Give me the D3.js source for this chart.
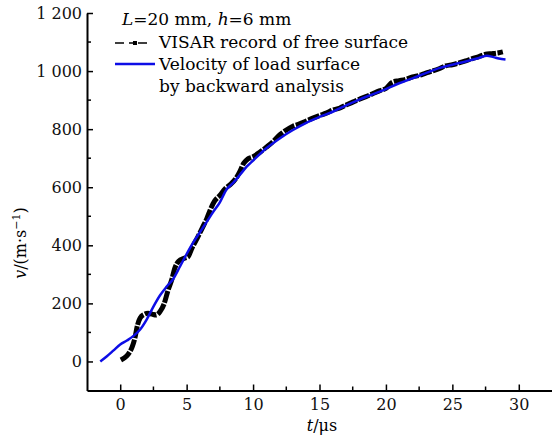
<!DOCTYPE html>
<html>
  <head>
    <meta charset="utf-8">
    <title>VISAR record vs backward analysis</title>
    <script src="https://cdn.jsdelivr.net/npm/d3@7"></script>
    <style>
      body { margin: 0; background: #fff; }
      svg, svg text { font-family: "DejaVu Serif", "Liberation Serif", serif; }
    </style>
  </head>

  <body>
    <svg id="chart" width="552" height="440"></svg>

    <script>
      // data (t in µs, v in m/s)
      visarT = [0.05, 0.3, 0.6, 0.9, 1.1, 1.3, 1.5, 1.8, 2.1, 2.4, 2.7, 3.0, 3.3, 3.6, 3.9, 4.1, 4.4, 4.8, 5.1, 5.4,
        5.8, 6.2, 6.5, 6.8, 7.1, 7.5, 7.9, 8.3, 8.7, 9.0, 9.3, 9.6, 10.0, 10.5, 11.0, 11.5, 12.0, 12.5, 13.0, 13.5,
        14.0, 14.5, 15.0, 15.5, 16.0, 16.5, 17.0, 17.5, 18.0, 18.5, 19.0, 19.5, 20.0, 20.5, 21.0, 21.5, 22.0, 22.5,
        23.0, 23.5, 24.0, 24.5, 25.0, 25.5, 26.0, 26.5, 27.0, 27.5, 28.0, 28.5, 28.8];
      visarV = [5, 12, 25, 50, 80, 125, 150, 162, 166, 163, 160, 172, 198, 245, 285, 320, 345, 355, 360, 390,
        425, 462, 490, 525, 552, 572, 595, 610, 630, 654, 683, 697, 705, 720, 738, 757, 780, 797, 810, 818,
        828, 838, 847, 855, 866, 872, 883, 893, 903, 912, 922, 932, 940, 962, 967, 972, 980, 985,
        993, 1000, 1008, 1018, 1022, 1028, 1035, 1043, 1050, 1058, 1060, 1063, 1066];

      loadT = [-1.5, -1.0, -0.5, 0.0, 0.5, 1.0, 1.5, 2.0, 2.5, 3.0, 3.5, 4.0, 4.5, 5.0, 5.5, 6.0, 6.5, 7.0, 7.5,
        8.0, 8.5, 9.0, 9.5, 10.0, 11.0, 12.0, 13.0, 14.0, 15.0, 16.0, 17.0, 18.0, 19.0, 20.0, 21.0, 22.0, 23.0,
        24.0, 25.0, 26.0, 27.0, 27.6, 28.1, 28.5, 29.0];
      loadV = [0, 18, 38, 58, 72, 88, 110, 145, 189, 228, 258, 285, 327, 370, 410, 445, 480, 515, 548,
        592, 615, 642, 670, 692, 734, 768, 797, 822, 842, 860, 882, 902, 920, 938, 958, 975, 993,
        1010, 1022, 1033, 1045, 1053, 1048, 1043, 1040];

      xTicks = [0, 5, 10, 15, 20, 25, 30];
      yTicks = [0, 200, 400, 600, 800, 1000, 1200];
      legendTitle = ["L", "=20 mm, ", "h", "=6 mm"];
      legendLabels = ["VISAR record of free surface", "Velocity of load surface", "by backward analysis"];

      chart = d3.select("#chart");

      scaleX = d3.scaleLinear()
        .domain([-2.5, 32.5])
        .range([87, 552]);
      scaleY = d3.scaleLinear()
        .domain([-100, 1200])
        .range([390.5, 13]);

      // axes, ticks point inward
      axisX = d3.axisBottom(scaleX)
        .tickValues(xTicks)
        .tickSizeInner(-6)
        .tickSizeOuter(0)
        .tickPadding(8);
      axisY = d3.axisLeft(scaleY)
        .tickValues(yTicks)
        .tickSizeInner(-6)
        .tickSizeOuter(0)
        .tickPadding(5)
        .tickFormat(d => d >= 1000 ? d3.format(",")(d).replace(",", " ") : d);

      xAxisGroup = chart.append("g")
        .attr("transform", "translate(0," + scaleY(-100) + ")")
        .call(axisX);
      yAxisGroup = chart.append("g")
        .attr("transform", "translate(" + scaleX(-2.5) + ",0)")
        .call(axisY);

      // minor ticks
      xAxisGroup.selectAll(".minor")
        .data(d3.range(2.5, 32.5, 5))
        .enter().append("line")
          .attr("x1", d => scaleX(d))
          .attr("x2", d => scaleX(d))
          .attr("y1", 0)
          .attr("y2", -4)
          .attr("stroke", "#000")
          .attr("stroke-width", 1.5);
      yAxisGroup.selectAll(".minor")
        .data(d3.range(100, 1200, 200))
        .enter().append("line")
          .attr("y1", d => scaleY(d))
          .attr("y2", d => scaleY(d))
          .attr("x1", 0)
          .attr("x2", 4)
          .attr("stroke", "#000")
          .attr("stroke-width", 1.5);

      chart.selectAll("g")
        .attr("font-family", null)
        .attr("font-size", 16);
      chart.selectAll(".domain")
        .attr("stroke", "#000")
        .attr("stroke-width", 2);
      chart.selectAll(".tick line")
        .attr("stroke", "#000")
        .attr("stroke-width", 1.5);
      chart.selectAll(".tick text")
        .attr("fill", "#111");

      // axis titles
      chart.append("text")
        .attr("x", 322)
        .attr("y", 431)
        .attr("text-anchor", "middle")
        .style("font-size", "16px")
        .html('<tspan font-style="italic">t</tspan>/\u03bcs');

      chart.append("text")
        .attr("transform", "translate(26,243) rotate(-90)")
        .attr("text-anchor", "middle")
        .style("font-size", "16px")
        .html('<tspan font-style="italic">v</tspan>/(m\u00b7s<tspan dy="-6" font-size="11px">\u22121</tspan><tspan dy="6">)</tspan>');

      // lines
      line = d3.line()
        .x(d => scaleX(d[0]))
        .y(d => scaleY(d[1]))
        .curve(d3.curveMonotoneX);

      visarData = visarT.map((t, i) => [t, visarV[i]]);
      loadData = loadT.map((t, i) => [t, loadV[i]]);

      chart.append("path")
        .datum(visarData)
        .attr("d", line)
        .attr("fill", "none")
        .attr("stroke", "#000")
        .attr("stroke-width", 5)
        .attr("stroke-dasharray", "12,1.5");

      chart.append("path")
        .datum(loadData)
        .attr("d", line)
        .attr("fill", "none")
        .attr("stroke", "#0d0de6")
        .attr("stroke-width", 2.5);

      // legend
      legend = chart.append("g").style("font-size", "17px");

      legend.append("text")
        .attr("x", 122)
        .attr("y", 25)
        .selectAll("tspan")
          .data(legendTitle)
        .enter().append("tspan")
          .attr("font-style", (d, i) => i % 2 == 0 ? "italic" : "normal")
          .text(d => d);

      legend.selectAll(".label")
        .data(legendLabels)
        .enter().append("text")
          .attr("x", 159)
          .attr("y", (d, i) => 48 + i * 22)
          .text(d => d);

      legend.append("line")
        .attr("x1", 115).attr("x2", 155)
        .attr("y1", 43).attr("y2", 43)
        .attr("stroke", "#000")
        .attr("stroke-width", 1.5)
        .attr("stroke-dasharray", "9,5,4,5,9");
      legend.append("rect")
        .attr("x", 133).attr("y", 41)
        .attr("width", 4).attr("height", 4)
        .attr("fill", "#000");
      legend.append("line")
        .attr("x1", 115).attr("x2", 155)
        .attr("y1", 64).attr("y2", 64)
        .attr("stroke", "#0d0de6")
        .attr("stroke-width", 2.5);
    </script>
  </body>
</html>
